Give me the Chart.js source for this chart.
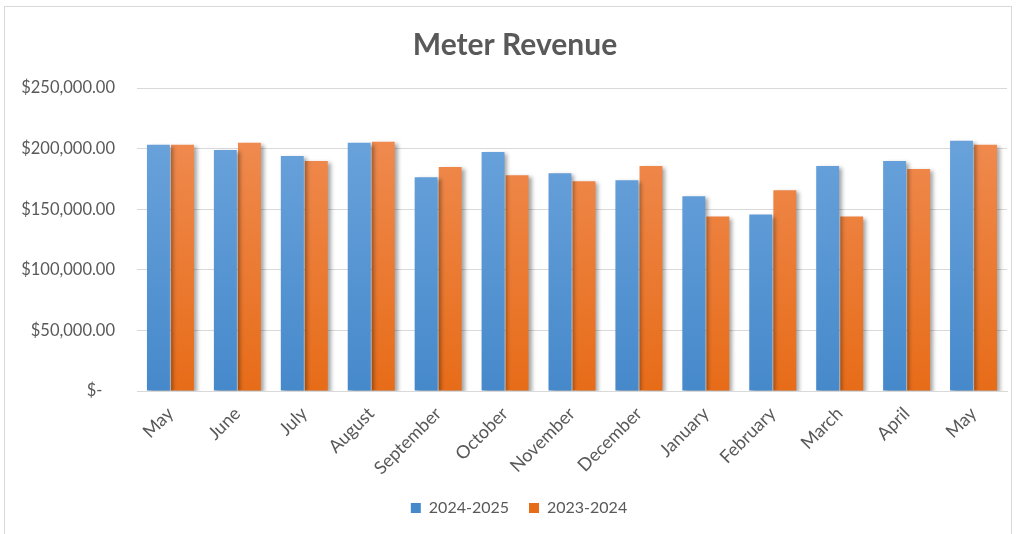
<!DOCTYPE html>
<html>
<head>
<meta charset="utf-8">
<script src="https://cdn.jsdelivr.net/npm/chart.js@4"></script>
<style>
  html, body { margin: 0; padding: 0; background: #fff; overflow: hidden; }
  #wrap {
    position: absolute; left: 4px; top: 6px;
    width: 1006px; height: 540px;
    border: 1px solid #d9d9d9;
  }
  #meterChart { display: block; }
</style>
</head>
<body>
<div id="wrap"><canvas id="meterChart" width="1006" height="527"></canvas></div>
<script>
const months = ['May', 'June', 'July', 'August', 'September', 'October', 'November',
    'December', 'January', 'February', 'March', 'April', 'May'];
const revenue2425 = [203100, 198900, 193900, 204750, 176400, 197250, 179750,
    173900, 160600, 145600, 185600, 189800, 206400];
const revenue2324 = [203100, 204750, 189750, 205600, 184750, 178100, 173100,
    185600, 143900, 165600, 143900, 183100, 203100];
const yTicks = [0, 50000, 100000, 150000, 200000, 250000];

const textGrey = '#595959';
const font = 'Lato, "Open Sans", sans-serif';

function gradient(top, bottom) {
    return (c) => {
        const area = c.chart.chartArea;
        if (!area) return bottom;
        const g = c.chart.ctx.createLinearGradient(0, area.top, 0, area.bottom);
        g.addColorStop(0, top);
        g.addColorStop(1, bottom);
        return g;
    };
}

function money(v) {
    if (v === 0) return '$-   ';
    return '$' + v.toLocaleString('en-US', { minimumFractionDigits: 2, maximumFractionDigits: 2 });
}

// soft shadow behind the bars, like the Excel style
const barShadow = {
    id: 'barShadow',
    beforeDatasetsDraw(chart) {
        const ctx = chart.ctx;
        ctx.save();
        ctx.shadowColor = 'rgba(0,0,0,0.35)';
        ctx.shadowBlur = 4;
        ctx.shadowOffsetX = 3;
        ctx.shadowOffsetY = 2;
    },
    afterDatasetsDraw(chart) {
        chart.ctx.restore();
    }
};

// title and legend sit a little right of the canvas centre
const nudgeBoxes = {
    id: 'nudgeBoxes',
    afterLayout(chart) {
        chart.titleBlock.left += 3;
        chart.titleBlock.right += 3;
        chart.legend.left += 7;
        chart.legend.right += 7;
    }
};

const ctx = document.getElementById('meterChart');

new Chart(ctx, {
    type: 'bar',
    data: {
        labels: months,
        datasets: [{
            label: '2024-2025',
            data: revenue2425,
            backgroundColor: gradient('#70a7de', '#4689cb'),
            categoryPercentage: 0.72,
            barPercentage: 0.95,
        }, {
            label: '2023-2024',
            data: revenue2324,
            backgroundColor: gradient('#f1905a', '#e76c18'),
            categoryPercentage: 0.72,
            barPercentage: 0.95,
        }]
    },
    plugins: [barShadow, nudgeBoxes],
    options: {
        responsive: false,
        animation: false,
        layout: { padding: { left: 12, right: 4, top: 0, bottom: 8 } },
        plugins: {
            title: {
                display: true,
                text: 'Meter Revenue',
                color: textGrey,
                font: { family: font, size: 30, weight: 'bold' },
                padding: { top: 20, bottom: 25 }
            },
            legend: {
                position: 'bottom',
                labels: {
                    color: textGrey,
                    font: { family: font, size: 16 },
                    boxWidth: 10,
                    boxHeight: 10,
                    padding: 20,
                }
            },
            tooltip: { enabled: false }
        },
        scales: {
            x: {
                grid: { display: false },
                border: { display: true, color: '#d9d9d9', width: 1 },
                ticks: {
                    color: textGrey,
                    font: { family: font, size: 18 },
                    minRotation: 45,
                    maxRotation: 45,
                    padding: 4,
                },
                afterFit(scale) { scale.height = 89; }
            },
            y: {
                min: 0,
                max: 250000,
                afterBuildTicks(scale) { scale.ticks = yTicks.map(v => ({ value: v })); },
                grid: { color: '#d9d9d9', drawTicks: false },
                border: { display: false },
                ticks: {
                    color: textGrey,
                    font: { family: font, size: 16.5 },
                    padding: 22,
                    callback: (v) => money(v)
                },
                afterFit(scale) { scale.width = 120; }
            }
        }
    }
});
</script>
</body>
</html>
